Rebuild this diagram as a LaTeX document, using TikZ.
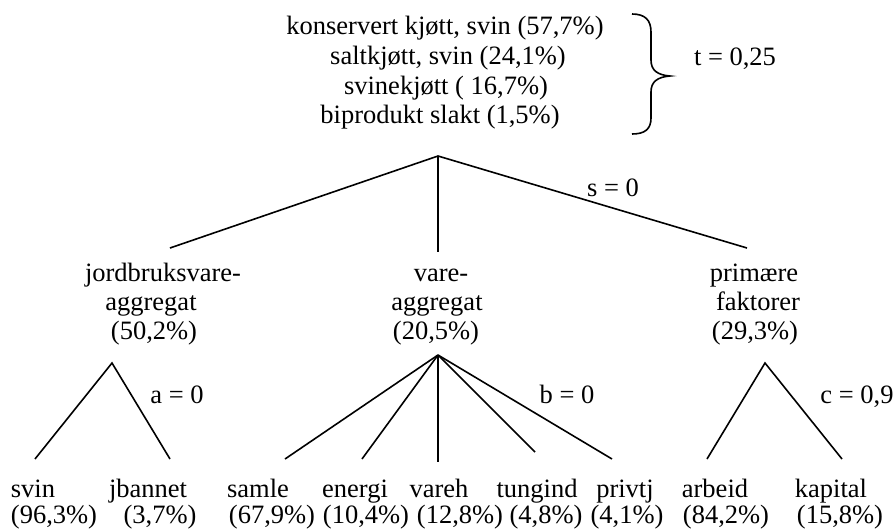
\documentclass[tikz,border=0pt]{standalone}
\usepackage{fontspec}
\setmainfont{Liberation Serif}
\begin{document}
\begin{tikzpicture}[x=1pt,y=-1pt,
  txt/.style={inner sep=0pt, anchor=base, font=\fontsize{26.5}{29}\selectfont},
  edge/.style={line width=1.6pt}]
\useasboundingbox (0,0) rectangle (895,528);

% top aggregate
\node[txt] (top1) at (445,34) {konservert kjøtt, svin (57,7\%)};
\node[txt] (top2) at (448,64) {saltkjøtt, svin (24,1\%)};
\node[txt] (top3) at (446,94) {svinekjøtt ( 16,7\%)};
\node[txt] (top4) at (440,123) {biprodukt slakt (1,5\%)};

% brace and elasticity t
\draw[line width=1.6pt] (632,14) .. controls (645,14) and (651,20) .. (651,32) -- (651,60)
  .. controls (651,70) and (657,75) .. (670,76)
  .. controls (657,77) and (651,82) .. (651,92) -- (651,118)
  .. controls (651,129) and (645,134) .. (632,134);
\node[txt] (t) at (735,65) {t = 0,25};

% first level
\coordinate (r0) at (438,156);
\coordinate (r1) at (170,248);
\coordinate (r2) at (438,252);
\coordinate (r3) at (747,248);
\draw[edge] (r1) -- (r0) -- (r3);
\draw[edge] (r0) -- (r2);
\node[txt] (s) at (613,196) {s = 0};

\node[txt] (jord1) at (163,281) {jordbruksvare-};
\node[txt] (jord2) at (151,310) {aggregat};
\node[txt] (jord3) at (154,339) {(50,2\%)};

\node[txt] (vare1) at (441,281) {vare-};
\node[txt] (vare2) at (437,310) {aggregat};
\node[txt] (vare3) at (436,339) {(20,5\%)};

\node[txt] (prim1) at (754,281) {primære};
\node[txt] (prim2) at (758,310) {faktorer};
\node[txt] (prim3) at (755,339) {(29,3\%)};

% agricultural goods
\coordinate (a0) at (112,363);
\coordinate (a1) at (35,459);
\coordinate (a2) at (170,459);
\draw[edge] (a1) -- (a0) -- (a2);
\node[txt] (a) at (177,403) {a = 0};

% other goods
\coordinate (b0) at (438,355);
\coordinate (b1) at (285,459);
\coordinate (b2) at (362,459);
\coordinate (b3) at (438,462);
\coordinate (b4) at (535,452);
\coordinate (b5) at (612,459);
\draw[edge] (b0) -- (b1);
\draw[edge] (b0) -- (b2);
\draw[edge] (b0) -- (b3);
\draw[edge] (b0) -- (b4);
\draw[edge] (b0) -- (b5);
\node[txt] (b) at (567,403) {b = 0};

% primary factors
\coordinate (c0) at (765,363);
\coordinate (c1) at (707,459);
\coordinate (c2) at (842,459);
\draw[edge] (c1) -- (c0) -- (c2);
\node[txt] (c) at (857,403) {c = 0,9};

% leaves
\node[txt] (n1) at (33,497) {svin};
\node[txt] (p1) at (54,523) {(96,3\%)};
\node[txt] (n2) at (148,497) {jbannet};
\node[txt] (p2) at (160,523) {(3,7\%)};
\node[txt] (n3) at (258,497) {samle};
\node[txt] (p3) at (272,523) {(67,9\%)};
\node[txt] (n4) at (355,497) {energi};
\node[txt] (p4) at (366,523) {(10,4\%)};
\node[txt] (n5) at (439,497) {vareh};
\node[txt] (p5) at (460,523) {(12,8\%)};
\node[txt] (n6) at (537,497) {tungind};
\node[txt] (p6) at (546,523) {(4,8\%)};
\node[txt] (n7) at (625,497) {privtj};
\node[txt] (p7) at (627,523) {(4,1\%)};
\node[txt] (n8) at (715,497) {arbeid};
\node[txt] (p8) at (726,523) {(84,2\%)};
\node[txt] (n9) at (831,497) {kapital};
\node[txt] (p9) at (840,523) {(15,8\%)};
\end{tikzpicture}
\end{document}
